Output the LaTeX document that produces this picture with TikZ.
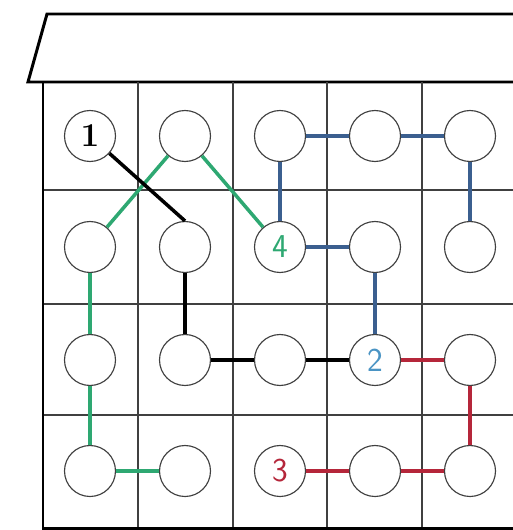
\documentclass[tikz,border=0pt]{standalone}
\usepackage{tikz}
\usepackage{xcolor}
\usetikzlibrary{shapes, positioning}

\definecolor{pathgreen}{HTML}{2EA872}
\definecolor{pathblue}{HTML}{3B5F8F}
\definecolor{numblue}{HTML}{4A94C4}
\definecolor{pathred}{HTML}{B5263A}

\tikzset{
    spot/.style={circle, draw=black!75, line width=0.65pt, fill=white, minimum size=1.02cm, inner sep=0pt, font=\fontsize{19}{21}\selectfont},
    link/.style={line width=2pt},
    wall/.style={line width=1.7pt},
    grid line/.style={line width=0.8pt, draw=black!75}
}

\begin{document}
\begin{tikzpicture}[x=0.02cm, y=-0.02cm]
        \clip (0, 0) rectangle (513, 530);
        
        % roof
        \draw[wall, line join=miter] (530, 14) -- (47, 14) -- (28, 82) -- (530, 82);
        
        % rooms
        \foreach \x in {138, 233, 327, 422}
            \draw[grid line] (\x, 82) -- (\x, 528);
        \foreach \y in {190, 304, 415}
            \draw[grid line] (43, \y) -- (530, \y);
        \draw[wall] (43, 82) -- (43, 530)
            (43, 528) -- (530, 528)
            (517, 82) -- (517, 530);
        
        \node[spot] (a1) at (90, 136) {\textbf{1}};
        \node[spot] (a2) at (185, 136) {};
        \node[spot] (a3) at (280, 136) {};
        \node[spot] (a4) at (375, 136) {};
        \node[spot] (a5) at (470, 136) {};
        \node[spot] (b1) at (90, 247) {};
        \node[spot] (b2) at (185, 247) {};
        \node[spot, text=pathgreen] (b3) at (280, 247) {\sffamily 4};
        \node[spot] (b4) at (375, 247) {};
        \node[spot] (b5) at (470, 247) {};
        \node[spot] (c1) at (90, 360) {};
        \node[spot] (c2) at (185, 360) {};
        \node[spot] (c3) at (280, 360) {};
        \node[spot, text=numblue] (c4) at (375, 360) {\sffamily 2};
        \node[spot] (c5) at (470, 360) {};
        \node[spot] (d1) at (90, 471) {};
        \node[spot] (d2) at (185, 471) {};
        \node[spot, text=pathred] (d3) at (280, 471) {\sffamily 3};
        \node[spot] (d4) at (375, 471) {};
        \node[spot] (d5) at (470, 471) {};
        
        \draw[link, pathgreen] (d2) to (d1)
            (d1) to (c1)
            (c1) to (b1)
            (b1) to (a2)
            (a2) to (b3);
        
        \draw[link, black] (a1) to (b2.north)
            (b2) to (c2)
            (c2) to (c3)
            (c3) to (c4);
        
        \draw[link, pathblue] (c4) to (b4)
            (b4) to (b3)
            (b3) to (a3)
            (a3) to (a4)
            (a4) to (a5)
            (a5) to (b5);
        
        \draw[link, pathred] (c4) to (c5)
            (c5) to (d5)
            (d5) to (d4)
            (d4) to (d3);
    \end{tikzpicture}
\end{document}
